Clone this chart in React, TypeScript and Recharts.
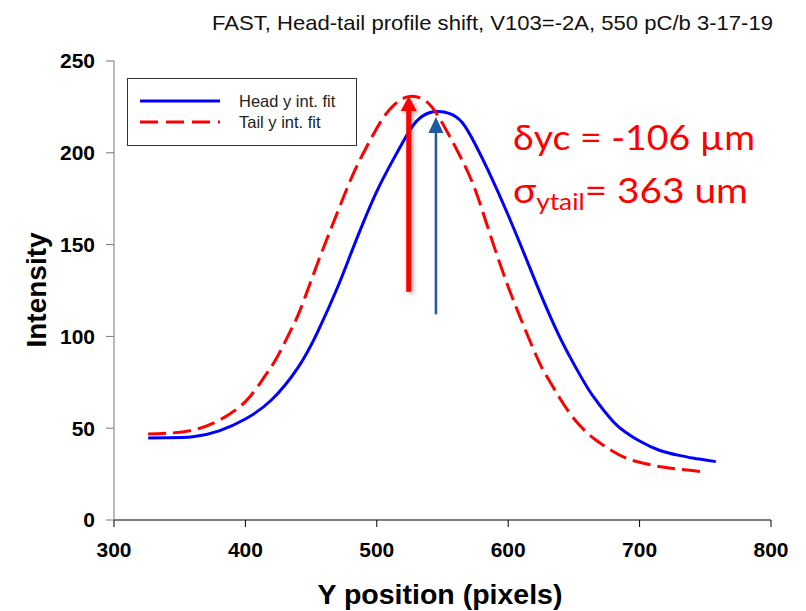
import React from "react";
import {
  LineChart,
  Line,
  XAxis,
  YAxis,
  ReferenceLine,
  Legend,
  Label,
} from "recharts";

// ---- data ----
const xTicks = [300, 400, 500, 600, 700, 800];
const yTicks = [0, 50, 100, 150, 200, 250];

const headX = [326, 340, 360, 380, 400, 420, 440, 455, 470, 480, 490, 500, 510, 520, 530, 540, 547, 555, 565, 575, 585, 600, 615, 625, 640, 655, 665, 680, 690, 700, 715, 730, 740, 750, 758];
const headY = [44.7, 44.8, 45.3, 48.5, 55, 65.5, 83, 102.5, 126.5, 144.6, 162.5, 179, 193, 206, 217, 221.8, 222.5, 221.5, 216.5, 204.5, 190, 166, 140, 122.5, 98.5, 78.5, 67, 53.5, 47.5, 43, 38, 35.2, 33.8, 32.7, 31.8];

const tailX = [326, 340, 360, 380, 400, 414, 424, 435, 442, 455, 467, 480, 491, 503, 513, 524, 536, 547, 561, 574, 586, 599, 612, 624, 631, 640, 652, 665, 678, 690, 703, 716, 728, 740, 748];
const tailY = [46.8, 47.2, 49, 54.3, 64.5, 77.5, 88.5, 104, 115, 140, 162, 185.2, 201.5, 217, 226, 230.6, 228.8, 219.7, 201.5, 181.5, 156, 129, 105.3, 85.3, 76.3, 65.5, 53.5, 44.5, 38.1, 33.6, 30.9, 29, 27.8, 26.9, 26.3];

const seriesNames = ["Head y int. fit", "Tail y int. fit"];
const titleText = "FAST, Head-tail profile shift, V103=-2A, 550 pC/b  3-17-19";
const xLabel = "Y position (pixels)";
const yLabel = "Intensity";

// arrows: [x, yBottom, yTip]
const tailArrow = [524.3, 124.3, 231];
const headArrow = [545, 112, 219.5];

const headData = headX.map((x, i) => ({ x, v: headY[i] }));
const tailData = tailX.map((x, i) => ({ x, v: tailY[i] }));

const makeArrow =
  (color: string, shaft: number, headW: number, headH: number, shadow: boolean) =>
  (p: any) => {
    const { x1, y1, y2 } = p;
    const top = Math.min(y1, y2);
    const bottom = Math.max(y1, y2);
    const x = x1;
    return (
      <g style={shadow ? { filter: "drop-shadow(2px 2px 2px rgba(0,0,0,0.35))" } : undefined}>
        <line x1={x} y1={bottom} x2={x} y2={top + headH - 1} stroke={color} strokeWidth={shaft} />
        <polygon
          points={`${x - headW / 2},${top + headH} ${x + headW / 2},${top + headH} ${x},${top}`}
          fill={color}
        />
      </g>
    );
  };

const LegendBox = () => (
  <div
    style={{
      width: 230,
      height: 68,
      border: "1.5px solid #333",
      boxSizing: "border-box",
      background: "#fff",
      position: "relative",
    }}
  >
    <svg width={230} height={68} style={{ position: "absolute", left: -1.5, top: -1.5 }}>
      <line x1={13} y1={23} x2={93} y2={23} stroke="#0000ff" strokeWidth={3} />
      <line x1={13} y1={44} x2={93} y2={44} stroke="#ff0000" strokeWidth={3} strokeDasharray="18 8" />
      <text x={112} y={29} fontSize={16.5} fill="#222" fontFamily="'Liberation Sans', Arial, sans-serif">
        {seriesNames[0]}
      </text>
      <text x={112} y={50} fontSize={16.5} fill="#222" fontFamily="'Liberation Sans', Arial, sans-serif">
        {seriesNames[1]}
      </text>
    </svg>
  </div>
);

export default function App() {
  const tickStyle = {
    fontFamily: "'Liberation Sans', Arial, sans-serif",
    fontWeight: 700,
    fontSize: 21,
    fill: "#000",
  };
  return (
    <div style={{ position: "absolute", left: 0, top: 0, width: 806, height: 611, background: "#fff" }}>
      <LineChart
        width={806}
        height={611}
        margin={{ top: 61, right: 35, left: 0, bottom: 0 }}
      >
        <XAxis
          dataKey="x"
          type="number"
          domain={[300, 800]}
          ticks={xTicks}
          allowDataOverflow
          height={91}
          tickSize={7}
          tickMargin={15}
          stroke="#000"
          tick={tickStyle}
        >
          <Label
            content={() => (
              <text
                x={440}
                y={604}
                textAnchor="middle"
                fontFamily="'Liberation Sans', Arial, sans-serif"
                fontWeight={700}
                fontSize={28.5}
                fill="#000"
              >
                {xLabel}
              </text>
            )}
          />
        </XAxis>
        <XAxis xAxisId="top" orientation="top" type="number" domain={[300, 800]} height={0} tick={false} tickLine={false} stroke="#000" />
        <YAxis
          type="number"
          domain={[0, 250]}
          ticks={yTicks}
          width={114}
          tickSize={8}
          tickMargin={11}
          stroke="#777"
          tick={tickStyle}
        >
          <Label
            content={() => (
              <text
                x={46}
                y={290}
                transform="rotate(-90 46 290)"
                textAnchor="middle"
                fontFamily="'Liberation Sans', Arial, sans-serif"
                fontWeight={700}
                fontSize={28}
                fill="#000"
              >
                {yLabel}
              </text>
            )}
          />
        </YAxis>
        <YAxis yAxisId="right" orientation="right" type="number" domain={[0, 250]} width={0} tick={false} tickLine={false} stroke="#777" />
        <Legend
          verticalAlign="middle"
          align="center"
          layout="horizontal"
          wrapperStyle={{ position: "absolute", left: 127, top: 78, width: 230, height: 68 }}
          content={() => <LegendBox />}
        />
        <Line
          data={headData}
          dataKey="v"
          name={seriesNames[0]}
          type="natural"
          stroke="#0000ff"
          strokeWidth={3}
          dot={false}
          activeDot={false}
          isAnimationActive={false}
        />
        <Line
          data={tailData}
          dataKey="v"
          name={seriesNames[1]}
          type="natural"
          stroke="#ff0000"
          strokeWidth={3}
          strokeDasharray="18 7"
          dot={false}
          activeDot={false}
          isAnimationActive={false}
        />
        <ReferenceLine
          segment={[
            { x: tailArrow[0], y: tailArrow[1] },
            { x: tailArrow[0], y: tailArrow[2] },
          ]}
          shape={makeArrow("#ff0000", 5, 16, 15, true)}
        />
        <ReferenceLine
          segment={[
            { x: headArrow[0], y: headArrow[1] },
            { x: headArrow[0], y: headArrow[2] },
          ]}
          shape={makeArrow("#1f5aa0", 2.5, 15, 16, false)}
        />
      </LineChart>
      <svg
        width={806}
        height={611}
        style={{ position: "absolute", left: 0, top: 0, pointerEvents: "none" }}
      >
        <text
          x={212}
          y={30}
          fontFamily="'Liberation Sans', Arial, sans-serif"
          fontSize={21}
          fill="#111"
          textLength={561}
          lengthAdjust="spacingAndGlyphs"
        >
          {titleText}
        </text>
        <text
          x={513}
          y={150}
          fontFamily="Lato, 'Open Sans', sans-serif"
          fontSize={34}
          fill="#ff0000"
          textLength={242}
          lengthAdjust="spacingAndGlyphs"
        >
          δyc = -106 µm
        </text>
        <text
          x={513}
          y={203}
          fontFamily="Lato, 'Open Sans', sans-serif"
          fontSize={34}
          fill="#ff0000"
          textLength={235}
          lengthAdjust="spacingAndGlyphs"
        >
          σ
          <tspan fontSize={23} dy={7}>ytail</tspan>
          <tspan dy={-7}>= 363 um</tspan>
        </text>
      </svg>
    </div>
  );
}
